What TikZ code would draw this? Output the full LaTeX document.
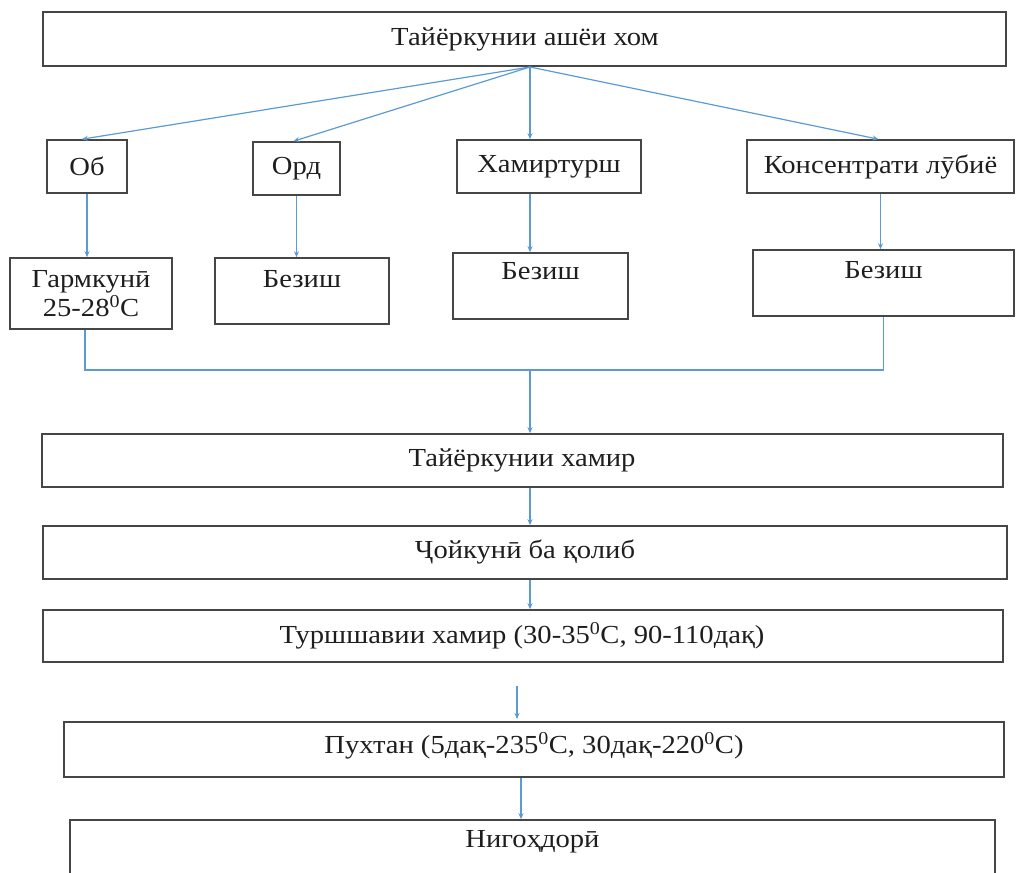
\documentclass[tikz,border=0pt]{standalone}
\usepackage{fontspec}
\setmainfont{Liberation Serif}[FakeStretch=1.1]
\usetikzlibrary{arrows.meta}
\definecolor{arrowblue}{RGB}{91,155,213}
\definecolor{boxgray}{RGB}{70,70,70}
\definecolor{textgray}{RGB}{30,30,30}
\begin{document}
\begin{tikzpicture}[x=1pt,y=-1pt,
  box/.style={draw=boxgray, line width=1.6pt, inner sep=0pt, minimum width=#1, align=center, anchor=center, text=textgray, font=\fontsize{26}{30}\selectfont},
  lbl/.style={inner sep=0pt, align=center, text=textgray, font=\fontsize{26}{30}\selectfont},
  conn/.style={draw=arrowblue, line width=1.2pt, -{Stealth[length=6pt,width=5pt]}},
  plain/.style={draw=arrowblue, line width=1.2pt}]
\useasboundingbox (0,0) rectangle (1019,872);
\clip (0,0) rectangle (1019,872);
% boxes
\node[box=963pt, minimum height=54pt] (top) at (524.5,39) {};
\node[lbl] (topt) at (525,39) {Тайёркунии ашёи хом};
\node[box=80pt, minimum height=53pt] (ob) at (87,166.5) {Об};
\node[box=87pt, minimum height=53pt] (ord) at (296.5,168.5) {Орд};
\node[box=184pt, minimum height=53pt] (ham) at (549,166.5) {Хамиртурш};
\node[box=267pt, minimum height=53pt] (kons) at (880.5,166.5) {Консентрати лӯбиё};
\node[box=162pt, minimum height=71pt, font=\fontsize{26}{29}\selectfont] (garm) at (91,293.5) {Гармкунӣ\\25-28\textsuperscript{0}C};
\node[box=174pt, minimum height=66pt] (bez1) at (302,291) {};
\node[lbl, anchor=north] (bez1t) at ([yshift=-13pt]bez1.north) {Безиш};
\node[box=175pt, minimum height=66pt] (bez2) at (540.5,286) {};
\node[lbl, anchor=north] (bez2t) at ([yshift=-10pt]bez2.north) {Безиш};
\node[box=261pt, minimum height=66pt] (bez3) at (883.5,283) {};
\node[lbl, anchor=north] (bez3t) at ([yshift=-12pt]bez3.north) {Безиш};
\node[box=961pt, minimum height=53pt] (hamir) at (522.5,460.5) {};
\node[lbl] (hamirt) at (522,460) {Тайёркунии хамир};
\node[box=964pt, minimum height=53pt] (joy) at (525,552.5) {};
\node[lbl] (joyt) at (525,552) {Ҷойкунӣ ба қолиб};
\node[box=960pt, minimum height=52pt] (tursh) at (523,636) {};
\node[lbl] (trt) at (522,636) {Туршшавии хамир (30-35\textsuperscript{0}C, 90-110дақ)};
\node[box=940pt, minimum height=55pt] (pukh) at (534,749.5) {};
\node[lbl] (pukht) at (534,746) {Пухтан (5дақ-235\textsuperscript{0}C, 30дақ-220\textsuperscript{0}C)};
\node[box=925pt, minimum height=70pt] (nig) at (532.5,855) {};
\node[lbl, anchor=north] (nigt) at ([yshift=-11pt]nig.north) {Нигоҳдорӣ};
% coordinates
\coordinate (src) at (530,67);
\coordinate (m) at (530,370);
\coordinate (a1) at (517,686);
\coordinate (a2) at (517,719);
% fan-out
\draw[conn] (src) -- ([xshift=-5pt]ob.north);
\draw[conn] (src) -- ([xshift=-3pt]ord.north);
\draw[conn] (src) -- (ham.north -| src);
\draw[conn] (src) -- ([xshift=-2pt]kons.north);
% verticals
\draw[conn] (ob.south) -- (ob.south |- garm.north);
\draw[conn] (ord.south) -- (ord.south |- bez1.north);
\draw[conn] (ham.south -| src) -- (bez2.north -| src);
\draw[conn] (kons.south) -- (kons.south |- bez3.north);
% merge
\draw[plain] ([xshift=-6pt]garm.south) -- ([xshift=-6pt]garm.south |- m) -- (bez3.south |- m) -- (bez3.south);
\draw[conn] (m) -- (hamir.north -| m);
\draw[conn] (hamir.south -| m) -- (joy.north -| m);
\draw[conn] (joy.south -| m) -- (tursh.north -| m);
\draw[conn] (a1) -- (a2);
\draw[conn] ([xshift=-13pt]pukh.south) -- ([xshift=-13pt]pukh.south |- nig.north);
\end{tikzpicture}
\end{document}
